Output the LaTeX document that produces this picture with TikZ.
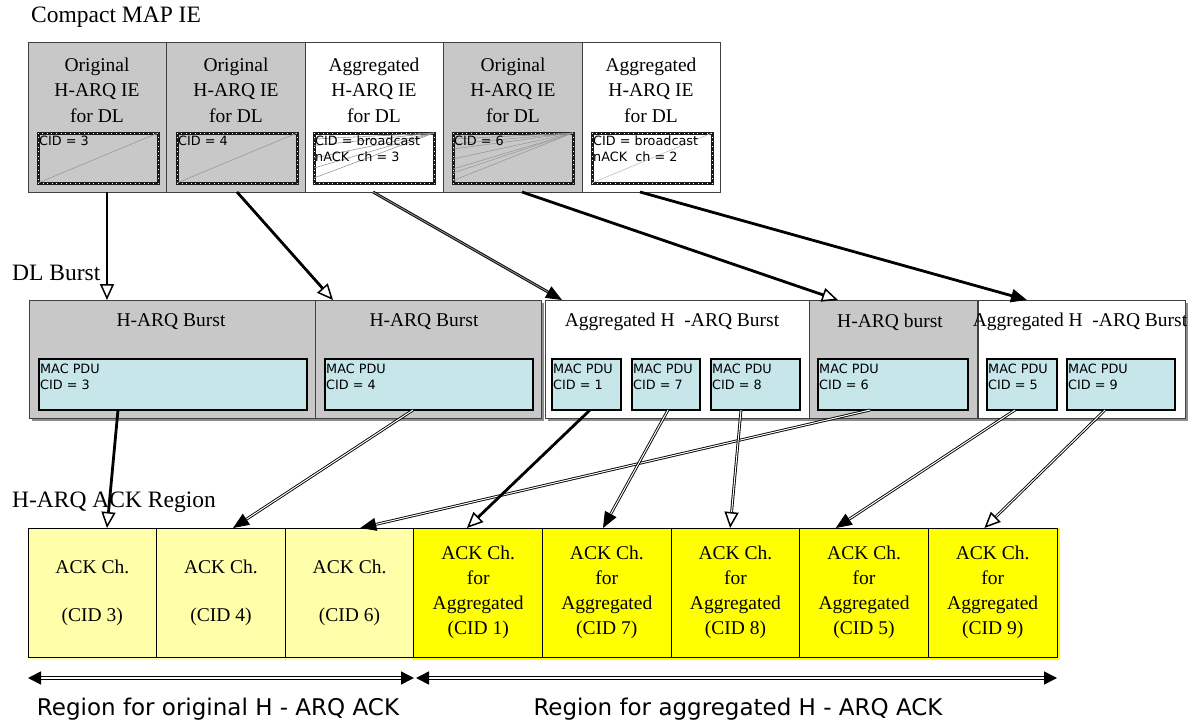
\documentclass[tikz,border=0pt]{standalone}
\usepackage{fontspec}
\setmainfont{Liberation Serif}
\newfontfamily\dejavu{DejaVu Sans}
\usetikzlibrary{arrows.meta,calc}
\definecolor{boxgray}{RGB}{200,200,200}
\definecolor{pducyan}{RGB}{198,230,233}
\definecolor{lightyel}{RGB}{255,255,170}
\definecolor{brightyel}{RGB}{255,255,0}
\begin{document}
\begin{tikzpicture}[x=1pt,y=-1pt,
  cell/.style={rectangle, inner sep=0pt, outer sep=0pt, anchor=north west},
  mapg/.style={cell, draw=black!75, line width=1pt, fill=boxgray, minimum height=149pt},
  mapw/.style={cell, draw=black!75, line width=1pt, fill=white, minimum height=149pt},
  innerbox/.style={cell, draw=black!90, line width=3pt, minimum width=120pt, minimum height=50pt,
     postaction={draw=white, line width=0.7pt, dash pattern=on 0.6pt off 4pt}},
  dlg/.style={cell, draw=black!75, line width=1pt, fill=boxgray, minimum height=118pt},
  dlw/.style={cell, draw=black!75, line width=1pt, fill=white, minimum height=118pt},
  pdu/.style={cell, draw=black, line width=1.2pt, fill=pducyan, minimum height=51pt},
  ackl/.style={cell, draw=black, line width=1pt, fill=lightyel, minimum width=128.625pt, minimum height=129pt},
  acky/.style={cell, draw=black, line width=1pt, fill=brightyel, minimum width=128.625pt, minimum height=129pt},
  ttl/.style={font=\fontsize{19.5}{25.5}\selectfont, align=center, inner sep=0pt},
  lbl/.style={font=\fontsize{23.5}{27}\selectfont, anchor=west, inner sep=0pt},
  biglbl/.style={font=\dejavu\fontsize{23}{27}\selectfont, inner sep=0pt},
  small/.style={font=\dejavu\fontsize{12.8}{15.5}\selectfont, align=left, anchor=north west, inner sep=0pt},
  diag/.style={draw=black!40, line width=0.6pt},
  thk/.style={draw=black, line width=2.8pt},
  dbl/.style={draw=black, double=white, double distance=1pt, line width=0.9pt},
  hollow/.style={-{Triangle[open, length=16pt, width=14pt, line width=1.5pt]}},
  solidtip/.style={-{Triangle[length=16pt, width=13pt]}}
]
\useasboundingbox (0,0) rectangle (1193,725);

% ---------- Compact MAP IE ----------
\node[lbl] (lmap) at (31,17) {Compact MAP IE};
\node[mapg, minimum width=138pt] (m1) at (28,43) {};
\node[mapg, minimum width=139pt] (m2) at (166,43) {};
\node[mapw, minimum width=138pt] (m3) at (305,43) {};
\node[mapg, minimum width=139pt] (m4) at (443,43) {};
\node[mapw, minimum width=138pt] (m5) at (582,43) {};

\node[ttl] (t1) at (97,90) {Original\\H-ARQ IE\\for DL};
\node[ttl] (t2) at (236,90) {Original\\H-ARQ IE\\for DL};
\node[ttl] (t3) at (374,90) {Aggregated\\H-ARQ IE\\for DL};
\node[ttl] (t4) at (513,90) {Original\\H-ARQ IE\\for DL};
\node[ttl] (t5) at (651,90) {Aggregated\\H-ARQ IE\\for DL};

\node[innerbox] (i1) at (38,133) {};
\node[innerbox] (i2) at (177,133) {};
\node[innerbox] (i3) at (314,133) {};
\node[innerbox] (i4) at (453,133) {};
\node[innerbox] (i5) at (592,133) {};

\draw[diag] (i1.south west) -- (i1.north east);
\draw[diag] (i2.south west) -- (i2.north east);
\foreach \f in {0.12,0.25,0.5,0.7,0.9}
  \draw[diag] ($(i3.north west)!\f!(i3.south west)$) -- (i3.north east);
\foreach \f in {0.12,0.22,0.32,0.52,0.72,0.8,0.95}
  \draw[diag] ($(i4.north west)!\f!(i4.south west)$) -- (i4.north east);
\draw[diag, draw=black!25] (i5.south west) -- (i5.north east);

\node[small] (c1) at (39,136) {CID = 3};
\node[small] (c2) at (178,136) {CID = 4};
\node[small] (c3) at (315,136) {CID = broadcast\\nACK~~ch = 3};
\node[small] (c4) at (454,136) {CID = 6};
\node[small] (c5) at (593,136) {CID = broadcast\\nACK~~ch = 2};

% ---------- DL Burst ----------
\node[lbl] (ldl) at (12,273) {DL Burst};
\fill[black!45] (31.5,302.5) rectangle (544,421);
\fill[black!45] (547.5,302.5) rectangle (1188,421);
\node[dlg, minimum width=286pt] (d1) at (29,300) {};
\node[dlg, minimum width=226pt] (d2) at (315,300) {};
\node[dlw, minimum width=264pt] (d3) at (545,300) {};
\node[dlg, minimum width=168pt] (d4) at (809,300) {};
\node[dlw, minimum width=207pt] (d5) at (978,300) {};

\node[ttl] (bt1) at (171,322) {H-ARQ Burst};
\node[ttl] (bt2) at (424,322) {H-ARQ Burst};
\node[ttl] (bt3) at (672,322) {Aggregated H~~-ARQ Burst};
\node[ttl] (bt4) at (890,322) {H-ARQ burst};
\node[ttl] (bt5) at (1080,322) {Aggregated H~~-ARQ Burst};

\node[pdu, minimum width=268pt] (pA) at (39,359) {};
\node[pdu, minimum width=208pt] (pB) at (325,359) {};
\node[pdu, minimum width=69pt] (p1) at (552,359) {};
\node[pdu, minimum width=68pt] (p7) at (632,359) {};
\node[pdu, minimum width=89pt] (p8) at (711,359) {};
\node[pdu, minimum width=150pt] (p6) at (818,359) {};
\node[pdu, minimum width=70pt] (p5) at (987,359) {};
\node[pdu, minimum width=108pt] (p9) at (1067,359) {};

\node[small] (s3) at (40,364) {MAC PDU\\CID = 3};
\node[small] (s4) at (326,364) {MAC PDU\\CID = 4};
\node[small] (s1) at (553,364) {MAC PDU\\CID = 1};
\node[small] (s7) at (633,364) {MAC PDU\\CID = 7};
\node[small] (s8) at (712,364) {MAC PDU\\CID = 8};
\node[small] (s6) at (819,364) {MAC PDU\\CID = 6};
\node[small] (s5) at (988,364) {MAC PDU\\CID = 5};
\node[small] (s9) at (1068,364) {MAC PDU\\CID = 9};

% ---------- H-ARQ ACK Region ----------
\node[lbl] (lack) at (12,502) {H-ARQ ACK Region};
\fill[lightyel] (28,528) rectangle (416,660);
\fill[brightyel] (414,528) rectangle (1060,660);
\node[ackl] (k1) at (28,528) {};
\node[ackl] (k2) at (156.625,528) {};
\node[ackl] (k3) at (285.25,528) {};
\node[acky] (k4) at (413.875,528) {};
\node[acky] (k5) at (542.5,528) {};
\node[acky] (k6) at (671.125,528) {};
\node[acky] (k7) at (799.75,528) {};
\node[acky] (k8) at (928.375,528) {};

\node[ttl, font=\fontsize{19.5}{24}\selectfont] (kt1) at (k1.center) {ACK Ch.\\[24pt](CID 3)};
\node[ttl, font=\fontsize{19.5}{24}\selectfont] (kt2) at (k2.center) {ACK Ch.\\[24pt](CID 4)};
\node[ttl, font=\fontsize{19.5}{24}\selectfont] (kt3) at (k3.center) {ACK Ch.\\[24pt](CID 6)};
\node[ttl, font=\fontsize{19.5}{25}\selectfont] (kt4) at (k4.center) {ACK Ch.\\for\\Aggregated\\(CID 1)};
\node[ttl, font=\fontsize{19.5}{25}\selectfont] (kt5) at (k5.center) {ACK Ch.\\for\\Aggregated\\(CID 7)};
\node[ttl, font=\fontsize{19.5}{25}\selectfont] (kt6) at (k6.center) {ACK Ch.\\for\\Aggregated\\(CID 8)};
\node[ttl, font=\fontsize{19.5}{25}\selectfont] (kt7) at (k7.center) {ACK Ch.\\for\\Aggregated\\(CID 5)};
\node[ttl, font=\fontsize{19.5}{25}\selectfont] (kt8) at (k8.center) {ACK Ch.\\for\\Aggregated\\(CID 9)};

% ---------- region arrows ----------
\coordinate (r1) at (28,678);
\coordinate (r2) at (414,678);
\coordinate (r3) at (416,678);
\coordinate (r4) at (1057,678);
\draw[draw=black, double=white, double distance=1.4pt, line width=1.6pt,
      {Triangle[length=13pt,width=13pt]}-{Triangle[length=13pt,width=13pt]}] (r1) -- (r2);
\draw[draw=black, double=white, double distance=1.4pt, line width=1.6pt,
      {Triangle[length=13pt,width=13pt]}-{Triangle[length=13pt,width=13pt]}] (r3) -- (r4);
\node[biglbl] (rl1) at (218,709) {Region for original H - ARQ ACK};
\node[biglbl] (rl2) at (738,709) {Region for aggregated H - ARQ ACK};

% ---------- arrows MAP -> DL ----------
\draw[thk, hollow] ([xshift=79pt]m1.south west) -- ([xshift=78pt]d1.north west);
\draw[thk, hollow] ([xshift=71pt]m2.south west) -- ([xshift=18pt]d2.north west);
\draw[dbl, double=black!45, solidtip] ([xshift=68pt]m3.south west) -- ([xshift=17pt]d3.north west);
\draw[thk, hollow] ([xshift=79pt]m4.south west) -- ([xshift=29pt]d4.north west);
\draw[thk, solidtip] ([xshift=58pt]m5.south west) -- ([xshift=49pt]d5.north west);

% ---------- arrows DL -> ACK ----------
\draw[thk, hollow] ([xshift=79pt]pA.south west) -- ([xshift=79pt]k1.north west);
\draw[dbl, solidtip] ([xshift=88pt]pB.south west) -- ([xshift=76.4pt]k2.north west);
\draw[dbl, solidtip] ([xshift=52pt]p6.south west) -- ([xshift=75pt]k3.north west);
\draw[thk, hollow] ([xshift=38pt]p1.south west) -- ([xshift=53pt]k4.north west);
\draw[dbl, solidtip] ([xshift=36pt]p7.south west) -- ([xshift=60.5pt]k5.north west);
\draw[dbl, hollow] ([xshift=30pt]p8.south west) -- ([xshift=59pt]k6.north west);
\draw[dbl, solidtip] ([xshift=28pt]p5.south west) -- ([xshift=36pt]k7.north west);
\draw[dbl, hollow] ([xshift=38pt]p9.south west) -- ([xshift=56pt]k8.north west);
\end{tikzpicture}
\end{document}
